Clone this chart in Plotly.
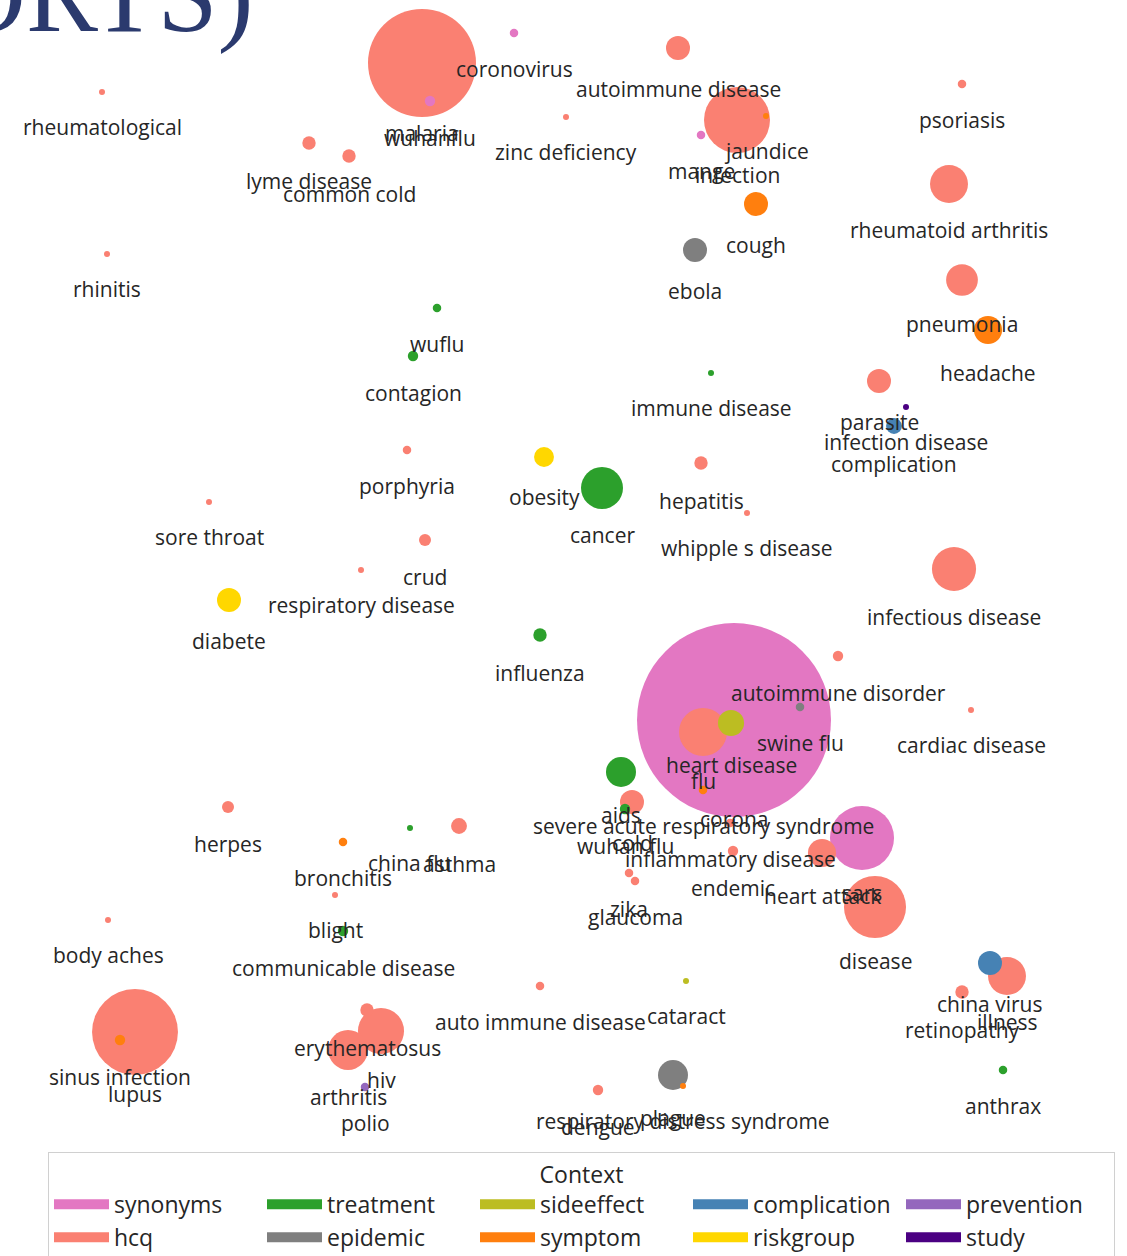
import math
import plotly.graph_objects as go

# ---- data (embedding coordinates) ----
labels = [
    "rheumatological", "malaria", "wuhanflu", "coronovirus", "autoimmune disease",
    "zinc deficiency", "lyme disease", "common cold", "psoriasis", "infection",
    "jaundice", "mange", "cough", "ebola", "rheumatoid arthritis",
    "rhinitis", "pneumonia", "headache", "wuflu", "contagion",
    "immune disease", "parasite", "infection disease", "complication", "porphyria",
    "obesity", "cancer", "hepatitis", "whipple s disease", "sore throat",
    "crud", "respiratory disease", "diabete", "infectious disease", "influenza",
    "autoimmune disorder", "corona", "flu", "heart disease", "swine flu",
    "severe acute respiratory syndrome", "aids", "cold", "wuhan flu", "endemic",
    "inflammatory disease", "heart attack", "sars", "disease", "zika",
    "glaucoma", "herpes", "bronchitis", "china flu", "asthma",
    "blight", "communicable disease", "body aches", "lupus", "sinus infection",
    "auto immune disease", "cataract", "china virus", "illness", "retinopathy",
    "anthrax", "erythematosus", "hiv", "arthritis", "polio",
    "dengue", "plague", "respiratory distress syndrome", "cardiac disease",
]
context = [
    "hcq", "hcq", "synonyms", "synonyms", "hcq",
    "hcq", "hcq", "hcq", "hcq", "hcq",
    "symptom", "synonyms", "symptom", "epidemic", "hcq",
    "hcq", "hcq", "symptom", "treatment", "treatment",
    "treatment", "hcq", "study", "complication", "hcq",
    "riskgroup", "treatment", "hcq", "hcq", "hcq",
    "hcq", "hcq", "riskgroup", "hcq", "treatment",
    "hcq", "synonyms", "hcq", "sideeffect", "epidemic",
    "symptom", "treatment", "hcq", "treatment", "hcq",
    "hcq", "hcq", "synonyms", "hcq", "hcq",
    "hcq", "hcq", "symptom", "treatment", "hcq",
    "hcq", "treatment", "hcq", "hcq", "symptom",
    "hcq", "sideeffect", "complication", "hcq", "hcq",
    "treatment", "hcq", "hcq", "hcq", "prevention",
    "hcq", "epidemic", "symptom", "hcq",
]
x_vals = [
    -46.15, -14.15, -13.35, -4.95, 11.45,
    0.25, -25.45, -21.45, 39.85, 17.35,
    20.25, 13.75, 19.25, 13.15, 38.55,
    -45.65, 39.85, 42.45, -12.65, -15.05,
    14.75, 31.55, 34.25, 33.05, -15.65,
    -1.95, 3.85, 13.75, 18.35, -35.45,
    -13.85, -20.25, -33.45, 39.05, -2.35,
    27.45, 17.05, 13.95, 16.75, 23.65,
    13.95, 5.75, 6.85, 6.15, 16.95,
    16.65, 25.85, 29.85, 31.15, 6.55,
    7.15, -33.55, -22.05, -15.35, -10.45,
    -22.85, -22.05, -45.55, -42.85, -44.35,
    -2.35, 12.25, 42.65, 44.35, 39.85,
    43.95, -19.65, -18.25, -21.55, -19.85,
    3.45, 10.95, 11.95, 40.75,
]
y_vals = [
    53.6, 56.5, 52.7, 59.5, 58.0,
    51.1, 48.5, 47.2, 54.4, 50.8,
    51.2, 49.3, 42.4, 37.8, 44.4,
    37.4, 34.8, 29.8, 32.0, 27.2,
    25.5, 24.7, 22.1, 20.2, 17.8,
    17.1, 14.0, 16.5, 11.5, 12.6,
    8.8, 5.8, 2.8, 5.9, -0.7,
    -2.8, -9.2, -10.4, -9.5, -7.9,
    -16.2, -14.4, -17.4, -18.1, -22.3,
    -19.5, -22.5, -21.0, -27.9, -24.5,
    -25.3, -17.9, -21.4, -20.0, -19.8,
    -26.7, -30.3, -29.2, -40.4, -41.2,
    -35.8, -35.3, -33.5, -34.8, -36.4,
    -44.2, -38.2, -40.3, -42.2, -45.9,
    -46.2, -44.7, -45.8, -8.2,
]
mentions = [
    1, 324, 3, 2, 16,
    1, 5, 5, 2, 121,
    1, 2, 16, 16, 40,
    1, 28, 22, 2, 3,
    1, 16, 1, 7, 2,
    11, 49, 5, 1, 1,
    4, 1, 16, 54, 5,
    3, 1045, 64, 19, 2,
    2, 25, 16, 3, 3,
    2, 22, 114, 107, 2,
    2, 4, 2, 1, 7,
    1, 3, 1, 205, 3,
    2, 1, 16, 40, 5,
    2, 5, 59, 44, 2,
    3, 25, 1, 1,
]
legend_order = ["synonyms", "treatment", "sideeffect", "complication", "prevention",
                "hcq", "epidemic", "symptom", "riskgroup", "study"]

# ---- styles ----
palette = {
    "synonyms": "#e377c2", "hcq": "#fa8072", "treatment": "#2ca02c",
    "epidemic": "#7f7f7f", "sideeffect": "#bcbd22", "symptom": "#ff7f0e",
    "complication": "#4682b4", "riskgroup": "#ffd700", "prevention": "#9467bd",
    "study": "#4b0082",
}
FONT = "Open Sans"
TXT = "#262626"
W, H = 1127, 1256

radius = [3.0 * math.sqrt(m) for m in mentions]
order = sorted(range(len(labels)), key=lambda i: -mentions[i])

fig = go.Figure()
fig.add_trace(go.Scatter(
    x=[x_vals[i] for i in order],
    y=[y_vals[i] for i in order],
    mode="markers",
    marker=dict(size=[2 * radius[i] for i in order],
                color=[palette[context[i]] for i in order],
                opacity=1, line=dict(width=0)),
    text=[labels[i] for i in order],
    hoverinfo="text",
    showlegend=False,
))
for c in legend_order:
    fig.add_trace(go.Scatter(x=[None], y=[None], mode="lines", name=c,
                             line=dict(color=palette[c], width=17)))

annotations = []
for i in range(len(labels)):
    annotations.append(dict(
        x=x_vals[i], y=y_vals[i], text=labels[i], showarrow=False,
        xanchor="center", yanchor="middle",
        yshift=-(33 + 0.68 * radius[i]),
        font=dict(family=FONT, size=21, color=TXT),
    ))
annotations.append(dict(
    xref="paper", yref="paper", x=256 / W, y=1 + 5 / H,
    xanchor="right", yanchor="middle", showarrow=False,
    text="(REPORTS)",
    font=dict(family="Liberation Serif", size=108, color="#2b3a6e"),
))

fig.update_layout(
    width=W, height=H,
    margin=dict(l=0, r=0, t=0, b=0, autoexpand=False),
    paper_bgcolor="white", plot_bgcolor="white",
    xaxis=dict(visible=False, range=[-56.35, 56.35]),
    yaxis=dict(visible=False, range=[-62.8, 62.8]),
    annotations=annotations,
    showlegend=True,
    legend=dict(
        orientation="h", x=48 / W, y=1 - 1152 / H,
        xanchor="left", yanchor="top",
        itemwidth=55,
        entrywidth=143, entrywidthmode="pixels",
        bgcolor="white", bordercolor="#d0d0d0", borderwidth=1,
        font=dict(family=FONT, size=23, color=TXT),
        title=dict(text="Context", side="top center",
                   font=dict(family=FONT, size=23, color=TXT)),
        itemclick=False,
    ),
)
fig.write_html("out.html",
               config={"displayModeBar": False},
               post_script="document.body.style.margin='0';")
